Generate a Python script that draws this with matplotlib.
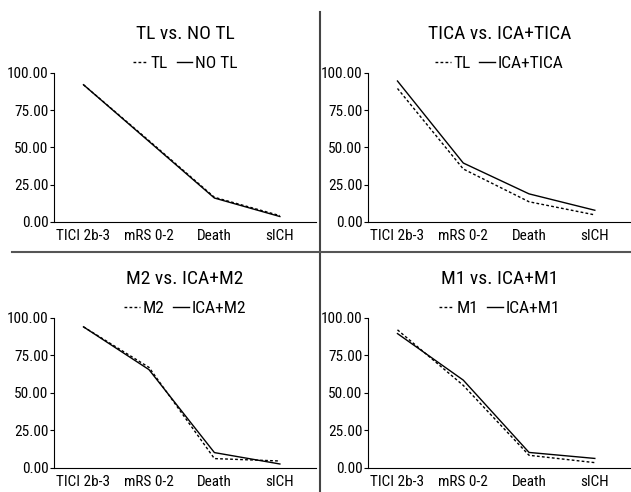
import matplotlib
matplotlib.use("Agg")
import matplotlib.pyplot as plt
from matplotlib.lines import Line2D
from matplotlib import font_manager

installed = set(f.name for f in font_manager.fontManager.ttflist)
family = 'DejaVu Sans'
for name in ['Liberation Sans Narrow', 'Roboto Condensed', 'Open Sans Condensed', 'Lato', 'Roboto']:
    if name in installed:
        family = name
        break
plt.rcParams['font.family'] = [family, 'DejaVu Sans']

categories = ['TICI 2b-3', 'mRS 0-2', 'Death', 'sICH']
yticks = [0, 25, 50, 75, 100]

titles = ['TL vs. NO TL', 'TICA vs. ICA+TICA', 'M2 vs. ICA+M2', 'M1 vs. ICA+M1']
dotted_names = ['TL', 'TL', 'M2', 'M1']
solid_names = ['NO TL', 'ICA+TICA', 'ICA+M2', 'ICA+M1']

tl_dotted = [92, 54.5, 16.5, 4.2]
tl_solid = [92, 54, 16, 3.6]
tica_dotted = [89.5, 35.5, 13.5, 4.7]
tica_solid = [94.5, 39.5, 18.8, 7.8]
m2_dotted = [94, 67, 6.2, 4.6]
m2_solid = [94, 65.5, 10.2, 2.6]
m1_dotted = [92, 55, 8.4, 3.5]
m1_solid = [89.5, 58.5, 10.3, 6.3]

dotted_data = [tl_dotted, tica_dotted, m2_dotted, m1_dotted]
solid_data = [tl_solid, tica_solid, m2_solid, m1_solid]

fig = plt.figure(figsize=(6.31, 4.92), dpi=100)

# axes positions [left, bottom, width, height] in figure fraction
positions = [
    [0.0856, 0.549, 0.415, 0.303],
    [0.583, 0.549, 0.417, 0.303],
    [0.0856, 0.049, 0.415, 0.305],
    [0.583, 0.049, 0.417, 0.305],
]

dot_style = (0, (2, 1.6))
x = list(range(len(categories)))

for i in range(4):
    ax = fig.add_axes(positions[i])
    ax.plot(x, dotted_data[i], color='black', lw=1.0, linestyle=dot_style)
    ax.plot(x, solid_data[i], color='black', lw=1.0)
    ax.set_xlim(-0.45, 3.55)
    ax.set_ylim(0, 100)
    ax.set_yticks(yticks)
    ax.set_yticklabels(['%.2f' % v for v in yticks], fontsize=11)
    ax.set_xticks(x)
    ax.set_xticklabels(categories, fontsize=11)
    ax.tick_params(axis='x', length=0, pad=5)
    ax.tick_params(axis='y', length=3, width=0.8, pad=1)
    for s in ['top', 'right']:
        ax.spines[s].set_visible(False)
    for s in ['left', 'bottom']:
        ax.spines[s].set_linewidth(0.8)
    ax.set_title(titles[i], fontsize=14, pad=24)
    handles = [Line2D([], [], color='black', lw=1.0, linestyle=dot_style),
               Line2D([], [], color='black', lw=1.0)]
    ax.legend(handles, [dotted_names[i], solid_names[i]], ncol=2, frameon=False,
              loc='lower center', bbox_to_anchor=(0.5, 0.99), fontsize=12.5,
              handlelength=0.9, handletextpad=0.15, columnspacing=0.5,
              borderpad=0, borderaxespad=0.2)

# panel dividers
fig.add_artist(Line2D([320 / 631, 320 / 631], [0, 1 - 12 / 492],
                      color='#444444', lw=1.5, transform=fig.transFigure))
fig.add_artist(Line2D([12 / 631, 1], [1 - 252 / 492, 1 - 252 / 492],
                      color='#555555', lw=1.5, transform=fig.transFigure))

fig.savefig('out.png', dpi=100)
